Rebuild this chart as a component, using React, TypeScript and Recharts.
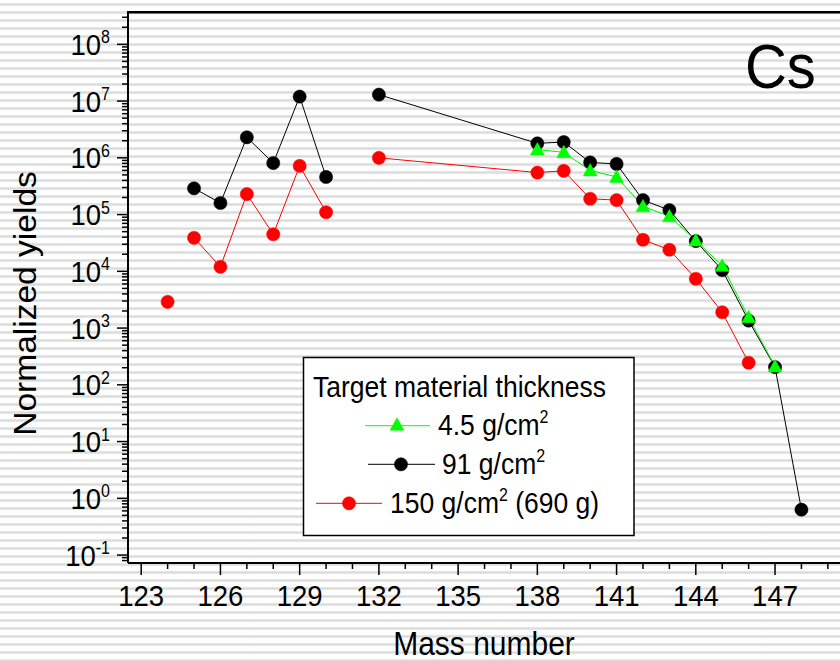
import React from "react";
import { ComposedChart, Line, XAxis, YAxis } from "recharts";

// mass numbers and normalized yields
const massesThin = [138, 139, 140, 141, 142, 143, 144, 145, 146, 147];
const yieldsThin = [1.4e6, 1.25e6, 6.0e5, 4.6e5, 1.4e5, 9.3e4, 3.5e4, 1.25e4, 1.55e3, 210];
const segStartsThin = [138];

const masses91 = [125, 126, 127, 128, 129, 130, 132, 138, 139, 140, 141, 142, 143, 144, 145, 146, 147, 148];
const yields91 = [2.9e5, 1.6e5, 2.3e6, 8.1e5, 1.2e7, 4.6e5, 1.3e7, 1.8e6, 1.9e6, 8.3e5, 7.8e5, 1.8e5, 1.2e5, 3.4e4, 1.05e4, 1.35e3, 205, 0.63];
const segStarts91 = [125, 132];

const masses150 = [124, 125, 126, 127, 128, 129, 130, 132, 138, 139, 140, 141, 142, 143, 144, 145, 146];
const yields150 = [2.9e3, 3.9e4, 1.2e4, 2.3e5, 4.5e4, 7.2e5, 1.1e5, 1.0e6, 5.5e5, 5.9e5, 1.9e5, 1.8e5, 3.6e4, 2.4e4, 7.4e3, 1.9e3, 245];
const segStarts150 = [124, 125, 132];

const xTicks = [123, 124, 125, 126, 127, 128, 129, 130, 131, 132, 133, 134, 135, 136, 137, 138, 139, 140, 141, 142, 143, 144, 145, 146, 147, 148, 149];
const xMajorStep = 3;
const decades = [-2, -1, 0, 1, 2, 3, 4, 5, 6, 7, 8];

const X_DOMAIN: [number, number] = [122.5, 149.46];
const Y_DOMAIN: [number, number] = [Math.pow(10, -1.14), Math.pow(10, 8.57)];

const yTicks: number[] = [];
decades.forEach((k) => {
  for (let m = 1; m <= 9; m++) {
    const v = m * Math.pow(10, k);
    if (v >= Y_DOMAIN[0] && v <= Y_DOMAIN[1]) yTicks.push(v);
  }
});

const FONT = '"Liberation Sans", Arial, Helvetica, sans-serif';
const STRETCH = 1.1;

function segments(masses: number[], yields: number[], starts: number[]) {
  const out: { mass: number; y: number }[][] = [];
  masses.forEach((m, i) => {
    if (starts.includes(m) || out.length === 0) out.push([]);
    out[out.length - 1].push({ mass: m, y: yields[i] });
  });
  return out;
}

const circleDot = (color: string) => (p: any) => (
  <circle key={p.key ?? `${p.cx}-${p.cy}`} cx={p.cx} cy={p.cy} r={6.6} fill={color} stroke={color} strokeWidth={0.5} />
);

const triangleDot = (color: string) => (p: any) => (
  <polygon
    key={p.key ?? `${p.cx}-${p.cy}`}
    points={`${p.cx},${p.cy - 7} ${p.cx + 7},${p.cy + 5.5} ${p.cx - 7},${p.cy + 5.5}`}
    fill={color}
    stroke={color}
    strokeWidth={0.5}
  />
);

function XTick(props: any) {
  const { x, y, payload } = props;
  const v = payload.value as number;
  const major = (v - xTicks[0]) % xMajorStep === 0;
  return (
    <g>
      <line x1={x} x2={x} y1={y} y2={y + (major ? 12 : 6)} stroke="#000" strokeWidth={1.5} />
      {major && (
        <text transform={`translate(${x},${y}) scale(1,${STRETCH})`} y={38.8} textAnchor="middle" fontSize={27.5} fontFamily={FONT} fill="#000">
          {v}
        </text>
      )}
    </g>
  );
}

function YTick(props: any) {
  const { x, y, payload } = props;
  const v = payload.value as number;
  const exp = Math.round(Math.log10(v));
  const major = Math.abs(v - Math.pow(10, exp)) < 1e-9 * Math.pow(10, exp);
  return (
    <g>
      <line x1={x - (major ? 11 : 6)} x2={x} y1={y} y2={y} stroke="#000" strokeWidth={1.5} />
      {major && (
        <text transform={`translate(${x - 18},${y}) scale(1,${STRETCH})`} y={9.6} textAnchor="end" fontSize={27.5} fontFamily={FONT} fill="#000">
          10
          <tspan fontSize={16} dy={-10.5}>
            {exp}
          </tspan>
        </text>
      )}
    </g>
  );
}

function Sup({ children }: { children: React.ReactNode }) {
  return (
    <tspan fontSize={16} dy={-11}>
      {children}
    </tspan>
  );
}

function Overlay() {
  const rows = [
    { kind: "tri", color: "#00ff00", x1: 365, x2: 430, mx: 397, tx: 438, y: 425.7, label: "4.5 g/cm", tail: "" },
    { kind: "circ", color: "#000000", x1: 368, x2: 435, mx: 401, tx: 442, y: 464.3, label: "91 g/cm", tail: "" },
    { kind: "circ", color: "#ff0000", x1: 316, x2: 382, mx: 349, tx: 390, y: 503.3, label: "150 g/cm", tail: " (690 g)" },
  ];
  return (
    <svg width={840} height={661} style={{ position: "absolute", left: 0, top: 0, pointerEvents: "none" }}>
      <rect x={127} y={11} width={713} height={2.5} fill="#000" />
      <rect x={303.5} y={357.5} width={330.5} height={178} fill="#fff" stroke="#000" strokeWidth={1.5} />
      <text transform={`translate(313,397) scale(1,${STRETCH})`} fontSize={26.5} fontFamily={FONT} fill="#000">
        Target material thickness
      </text>
      {rows.map((r) => (
        <g key={r.label}>
          <line x1={r.x1} x2={r.x2} y1={r.y} y2={r.y} stroke={r.color} strokeWidth={1} />
          {r.kind === "tri" ? triangleDot(r.color)({ cx: r.mx, cy: r.y - 1, key: "m" }) : circleDot(r.color)({ cx: r.mx, cy: r.y, key: "m" })}
          <text transform={`translate(${r.tx},${r.y}) scale(1,${STRETCH})`} y={8.5} fontSize={26.5} fontFamily={FONT} fill="#000">
            {r.label}
            <Sup>2</Sup>
            {r.tail && <tspan dy={11}>{r.tail}</tspan>}
          </text>
        </g>
      ))}
    </svg>
  );
}

const seriesDefs = [
  { name: "150", segs: segments(masses150, yields150, segStarts150), color: "#ff0000", dot: circleDot("#ff0000") },
  { name: "91", segs: segments(masses91, yields91, segStarts91), color: "#000000", dot: circleDot("#000000") },
  { name: "4.5", segs: segments(massesThin, yieldsThin, segStartsThin), color: "#00ee00", dot: triangleDot("#00ff00") },
];

export default function App() {
  return (
    <div
      style={{
        position: "absolute",
        left: 0,
        top: 0,
        width: 840,
        height: 661,
        overflow: "hidden",
        fontFamily: FONT,
        background:
          "repeating-linear-gradient(180deg, #ffffff 0px, #ffffff 3px, #e9e9e9 3px, #dcdcdc 4.5px, #e9e9e9 6px, #ffffff 6px, #ffffff 8px)",
      }}
    >
      <ComposedChart width={840} height={661} margin={{ top: 12, right: 0, bottom: 0, left: 0 }}>
        <XAxis
          dataKey="mass"
          type="number"
          domain={X_DOMAIN}
          allowDataOverflow
          ticks={xTicks}
          interval={0}
          tickSize={0}
          tickMargin={0}
          height={98}
          axisLine={{ stroke: "#000", strokeWidth: 2 }}
          tick={<XTick />}
        />
        <YAxis
          dataKey="y"
          type="number"
          scale="log"
          domain={Y_DOMAIN}
          allowDataOverflow
          ticks={yTicks}
          interval={0}
          tickSize={0}
          tickMargin={0}
          width={128}
          axisLine={{ stroke: "#000", strokeWidth: 2 }}
          tick={<YTick />}
        />
        {seriesDefs.map((s) =>
          s.segs.map((seg, i) => (
            <Line
              key={`${s.name}-${i}`}
              data={seg}
              dataKey="y"
              type="linear"
              stroke={s.color}
              strokeWidth={1}
              dot={s.dot}
              activeDot={false}
              isAnimationActive={false}
            />
          ))
        )}
        <line x1={127} x2={840} y1={12} y2={12} stroke="#000" strokeWidth={2} />
        <text transform={`translate(745,87.5) scale(1,${STRETCH})`} fontSize={58} fontFamily={FONT} fill="#000">
          Cs
        </text>
        <text transform={`translate(484,655) scale(1,${STRETCH})`} textAnchor="middle" fontSize={30} fontFamily={FONT} fill="#000">
          Mass number
        </text>
        <text transform={`translate(36,303.5) rotate(-90) scale(${STRETCH},1)`} textAnchor="middle" fontSize={30.5} fontFamily={FONT} fill="#000">
          Normalized yields
        </text>
      </ComposedChart>
      <Overlay />
    </div>
  );
}
